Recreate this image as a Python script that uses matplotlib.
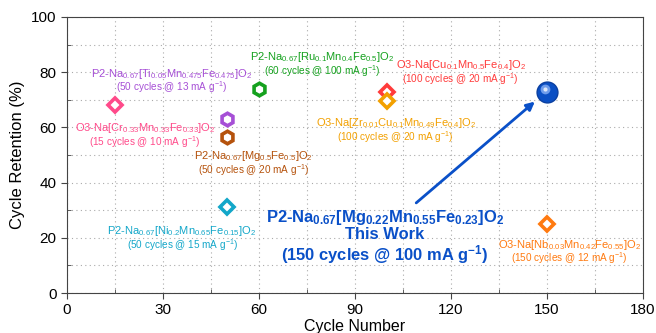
import matplotlib
matplotlib.use("Agg")
import matplotlib.pyplot as plt
from matplotlib.ticker import MultipleLocator

plt.rcParams['font.family'] = ['Liberation Sans', 'DejaVu Sans']
plt.rcParams['mathtext.default'] = 'regular'

# data
cycles = [15, 50, 50, 60, 100, 100, 50, 150]
retention = [68, 63, 56.5, 74, 73, 69.5, 31, 25]
markers = ['D', 'h', 'h', 'h', 'D', 'D', 'D', 'D']
colors = ['#FF4A8A', '#A64FD6', '#B5520C', '#15A11E', '#FF3B3B', '#F2A000', '#13A7C9', '#FF7A10']
names = [r'O3-Na[Cr$_{0.33}$Mn$_{0.33}$Fe$_{0.33}$]O$_2$',
         r'P2-Na$_{0.67}$[Ti$_{0.05}$Mn$_{0.475}$Fe$_{0.475}$]O$_2$',
         r'P2-Na$_{0.67}$[Mg$_{0.5}$Fe$_{0.5}$]O$_2$',
         r'P2-Na$_{0.67}$[Ru$_{0.1}$Mn$_{0.4}$Fe$_{0.5}$]O$_2$',
         r'O3-Na[Cu$_{0.1}$Mn$_{0.5}$Fe$_{0.4}$]O$_2$',
         r'O3-Na[Zr$_{0.01}$Cu$_{0.1}$Mn$_{0.49}$Fe$_{0.4}$]O$_2$',
         r'P2-Na$_{0.67}$[Ni$_{0.2}$Mn$_{0.65}$Fe$_{0.15}$]O$_2$',
         r'O3-Na[Nb$_{0.03}$Mn$_{0.42}$Fe$_{0.55}$]O$_2$']
conditions = ['(15 cycles @ 10 mA g$^{-1}$)',
              '(50 cycles @ 13 mA g$^{-1}$)',
              '(50 cycles @ 20 mA g$^{-1}$)',
              '(60 cycles @ 100 mA g$^{-1}$)',
              '(100 cycles @ 20 mA g$^{-1}$)',
              '(100 cycles @ 20 mA g$^{-1}$)',
              '(50 cycles @ 15 mA g$^{-1}$)',
              '(150 cycles @ 12 mA g$^{-1}$)']
# label anchor (x, y of first line)
label_x = [24.4, 32.8, 58.4, 79.7, 123, 102.8, 36, 157]
label_y = [59.8, 79.5, 49.5, 85.5, 82.5, 61.5, 22.5, 17.5]

work_x, work_y = 150, 73
work_name = r'P2-Na$_{0.67}$[Mg$_{0.22}$Mn$_{0.55}$Fe$_{0.23}$]O$_2$'

fig = plt.figure(figsize=(6.56, 3.33), dpi=100)
ax = fig.add_axes([0.102, 0.120, 0.878, 0.829])

for x, y, m, c in zip(cycles, retention, markers, colors):
    size = 7 if m == 'D' else 9
    ax.plot(x, y, marker=m, color=c, markersize=size, markerfacecolor='white',
            markeredgecolor=c, markeredgewidth=2.6, zorder=3)

for lx, ly, n, cond, c in zip(label_x, label_y, names, conditions, colors):
    ax.text(lx, ly, n, color=c, fontsize=8, ha='center', va='center')
    ax.text(lx, ly - 5.0, cond, color=c, fontsize=7.2, ha='center', va='center')

# this work: blue sphere
ax.plot(work_x, work_y, 'o', color='#0A4FC4', markersize=15, markeredgecolor='#0A3FA0', zorder=4)
ax.plot(work_x - 0.7, work_y + 0.9, 'o', color='#6E9CEB', markersize=7, markeredgewidth=0, zorder=5)
ax.plot(work_x - 0.7, work_y + 0.9, 'o', color='#DDE8FA', markersize=3, markeredgewidth=0, zorder=6)

ax.annotate('', xy=(146.9, 70), xytext=(108.5, 32),
            arrowprops=dict(arrowstyle='-|>', color='#0A50C8', lw=2, mutation_scale=12))
ax.text(99.4, 27.5, work_name, color='#0A50C8', fontsize=11.9, fontweight='bold', ha='center', va='center')
ax.text(99.4, 21.2, 'This Work', color='#0A50C8', fontsize=11.9, fontweight='bold', ha='center', va='center')
ax.text(99.4, 14, '(150 cycles @ 100 mA g$^{-1}$)', color='#0A50C8', fontsize=11.9,
        fontweight='bold', ha='center', va='center')

ax.set_xlim(0, 180)
ax.set_ylim(0, 100)
ax.xaxis.set_major_locator(MultipleLocator(30))
ax.xaxis.set_minor_locator(MultipleLocator(15))
ax.yaxis.set_major_locator(MultipleLocator(20))
ax.yaxis.set_minor_locator(MultipleLocator(10))
ax.grid(True, which='both', linestyle=(0, (1, 3)), color='#aaaaaa', linewidth=0.8)
ax.tick_params(which='major', direction='out', length=4, labelsize=11, color='#444444')
ax.tick_params(which='minor', direction='in', length=3, color='#444444')
for s in ax.spines.values():
    s.set_color('#444444')
ax.set_xlabel('Cycle Number', fontsize=11.5, labelpad=1)
ax.set_ylabel('Cycle Retention (%)', fontsize=12)

fig.savefig('out.png', dpi=100)
